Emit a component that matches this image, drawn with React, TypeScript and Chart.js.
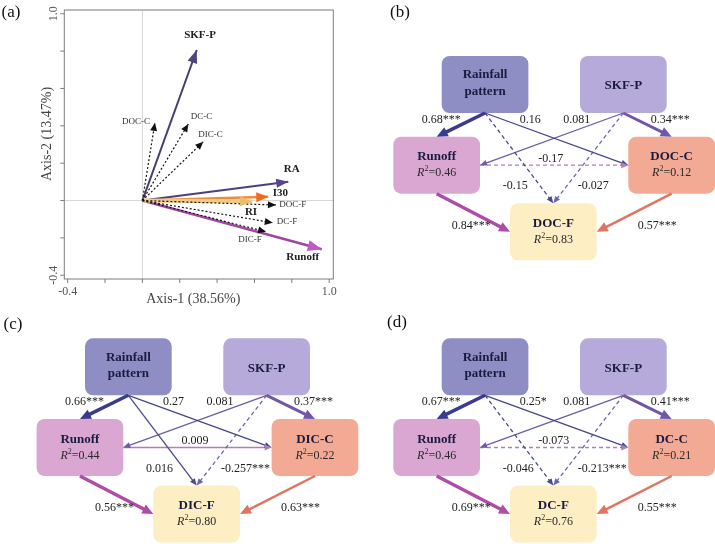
import { useEffect, useRef } from "react";
import { Chart, registerables } from "chart.js";

Chart.register(...registerables);

const SERIF = '"Liberation Serif", "Times New Roman", serif';

// ---------- Panel (a): RDA biplot data ----------
const explanatoryNames = ["RI", "I30", "RA", "SKF-P", "Runoff"];
const explanatoryAxis1 = [0.587, 0.674, 0.781, 0.291, 0.96];
const explanatoryAxis2 = [-0.005, 0.02, 0.101, 0.806, -0.261];
const responseNames = ["DOC-C", "DC-C", "DIC-C", "DOC-F", "DC-F", "DIC-F"];
const responseAxis1 = [0.067, 0.246, 0.326, 0.715, 0.698, 0.662];
const responseAxis2 = [0.416, 0.41, 0.315, -0.024, -0.119, -0.167];
const axisTickValues = [-0.4, -0.2, 0, 0.2, 0.4, 0.6, 0.8, 1.0];
const axisTickLabels = ["-0.4", "", "", "", "", "", "", "1.0"];
const axis1Title = "Axis-1 (38.56%)";
const axis2Title = "Axis-2 (13.47%)";

// ---------- Panels (b)-(d): path model data ----------
const panelLetters = ["(b)", "(c)", "(d)"];
const carbonCNames = ["DOC-C", "DIC-C", "DC-C"];
const carbonFNames = ["DOC-F", "DIC-F", "DC-F"];
const r2Runoff = [0.46, 0.44, 0.46];
const r2CarbonC = [0.12, 0.22, 0.21];
const r2CarbonF = [0.83, 0.8, 0.76];
const pathFrom = ["rain", "rain", "rain", "skf", "skf", "skf", "runoff", "runoff", "cc"];
const pathTo = ["runoff", "cc", "cf", "runoff", "cc", "cf", "cc", "cf", "cf"];
const coefDOC = [0.68, 0.16, -0.15, 0.081, 0.34, -0.027, -0.17, 0.84, 0.57];
const sigDOC = ["***", "", "", "", "***", "", "", "***", "***"];
const coefDIC = [0.66, 0.27, 0.016, 0.081, 0.37, -0.257, 0.009, 0.56, 0.63];
const sigDIC = ["***", "", "", "", "***", "***", "", "***", "***"];
const coefDC = [0.67, 0.25, -0.046, 0.081, 0.41, -0.213, -0.073, 0.69, 0.55];
const sigDC = ["***", "*", "", "", "***", "***", "", "***", "***"];
const panelCoefs = [coefDOC, coefDIC, coefDC];
const panelSigs = [sigDOC, sigDIC, sigDC];

// ---------- Styles / layout ----------
const responseStyle = { color: "#151515", width: 1.2, dash: [2, 2], headLen: 8, headHalf: 3.5, head: "#111" };
const explanatoryStyle = [
  { color: "#eccb86", width: 4, head: "#e9bf6c", headLen: 12, headHalf: 5 },
  { color: "#ee8c3e", width: 2.5, head: "#ef6c1c", headLen: 12, headHalf: 5 },
  { color: "#4d3f80", width: 2, head: "#584592", headLen: 12, headHalf: 4.5 },
  { color: "#47406f", width: 2, head: "#4c4580", headLen: 13, headHalf: 5 },
  { color: "#a045a4", width: 2.5, head: "#c257c5", headLen: 14, headHalf: 5.5 },
];
const explanatoryLabel = [
  { dx: -1, dy: 11, align: "center" },
  { dx: 12, dy: -4, align: "center" },
  { dx: 3.4, dy: -12.7, align: "center" },
  { dx: 3.3, dy: -15, align: "center" },
  { dx: -19, dy: 8, align: "center" },
];
const responseLabel = [
  { dx: -5, dy: -1, align: "right" },
  { dx: 2.4, dy: -7.3, align: "left" },
  { dx: -5, dy: -6.7, align: "left" },
  { dx: 3.3, dy: 0, align: "left" },
  { dx: 4, dy: -1, align: "left" },
  { dx: -16, dy: 8.3, align: "center" },
];

const BOX_W = 86.7;
const BOX_H = 57;
const BOX_R = 8;
const nodePos: Record<string, [number, number]> = {
  rain: [0, 0],
  skf: [138.3, 0],
  runoff: [-48.4, 80.7],
  cc: [186.6, 80.7],
  cf: [68.3, 147.3],
};
const nodeFill: Record<string, string> = {
  rain: "#8e8dc4",
  skf: "#b5aad9",
  runoff: "#d9a7d2",
  cc: "#f3aa95",
  cf: "#fdefc3",
};
const fromSide = ["bottom", "bottom", "bottom", "bottom", "bottom", "bottom", "right", "bottom", "bottom"];
const toSide = ["top", "left", "top", "right", "top", "top", "left", "left", "right"];
const edgeColor = ["#3b3a8c", "#46468f", "#4a4a8c", "#6c5ca6", "#7257a8", "#6f66aa", "#b47cb8", "#b04ba8", "#e07460"];
const edgeThick = [3.5, 3, 3, 3, 3, 3, 3, 3.5, 2.5];
const labelPos: [number, number][] = [
  [-20, 63.7], [78, 63.7], [61, 130.3], [121.5, 63.7], [209, 63.7], [136, 130.3], [96.5, 102.8], [10, 170], [196, 170],
];
const panelPlacement = [
  { left: 370, top: 0, width: 345, height: 300, ox: 441.7, oy: 56, letter: [400, 13] },
  { left: 0, top: 308, width: 362, height: 236, ox: 85, oy: 338.3, letter: [13, 325] },
  { left: 370, top: 300, width: 345, height: 244, ox: 441.7, oy: 338.3, letter: [397, 323] },
];

function drawHead(ctx: CanvasRenderingContext2D, fx: number, fy: number, tx: number, ty: number, len: number, half: number, color: string) {
  const a = Math.atan2(ty - fy, tx - fx);
  ctx.save();
  ctx.translate(tx, ty);
  ctx.rotate(a);
  ctx.beginPath();
  ctx.moveTo(0, 0);
  ctx.lineTo(-len, -half);
  ctx.lineTo(-len, half);
  ctx.closePath();
  ctx.fillStyle = color;
  ctx.fill();
  ctx.restore();
}

function roundRect(ctx: CanvasRenderingContext2D, x: number, y: number, w: number, h: number, r: number) {
  ctx.beginPath();
  ctx.moveTo(x + r, y);
  ctx.arcTo(x + w, y, x + w, y + h, r);
  ctx.arcTo(x + w, y + h, x, y + h, r);
  ctx.arcTo(x, y + h, x, y, r);
  ctx.arcTo(x, y, x + w, y, r);
  ctx.closePath();
}

function BiplotPanel() {
  const ref = useRef<HTMLCanvasElement>(null);
  useEffect(() => {
    const canvas = ref.current;
    if (!canvas) return;
    const datasets: any[] = [];
    responseNames.forEach((n, i) => {
      datasets.push({
        label: n,
        data: [{ x: 0, y: 0 }, { x: responseAxis1[i], y: responseAxis2[i] }],
        showLine: true,
        borderColor: responseStyle.color,
        borderWidth: responseStyle.width,
        borderDash: responseStyle.dash,
        pointRadius: 0,
      });
    });
    explanatoryNames.forEach((n, i) => {
      datasets.push({
        label: n,
        data: [{ x: 0, y: 0 }, { x: explanatoryAxis1[i], y: explanatoryAxis2[i] }],
        showLine: true,
        borderColor: explanatoryStyle[i].color,
        borderWidth: explanatoryStyle[i].width,
        pointRadius: 0,
      });
    });
    const plugin = {
      id: "biplot",
      beforeDatasetsDraw(chart: any) {
        const { ctx, chartArea: a, scales } = chart;
        const x0 = scales.x.getPixelForValue(0);
        const y0 = scales.y.getPixelForValue(0);
        ctx.save();
        ctx.strokeStyle = "#d6d6d6";
        ctx.lineWidth = 1;
        ctx.beginPath();
        ctx.moveTo(x0, a.top);
        ctx.lineTo(x0, a.bottom);
        ctx.moveTo(a.left, y0);
        ctx.lineTo(a.right, y0);
        ctx.stroke();
        ctx.restore();
      },
      afterDatasetsDraw(chart: any) {
        const { ctx, chartArea: a, scales } = chart;
        ctx.save();
        const nResp = responseNames.length;
        datasets.forEach((_, i) => {
          const meta = chart.getDatasetMeta(i);
          const p0 = meta.data[0];
          const p1 = meta.data[1];
          if (i < nResp) {
            drawHead(ctx, p0.x, p0.y, p1.x, p1.y, responseStyle.headLen, responseStyle.headHalf, responseStyle.head);
          } else {
            const s = explanatoryStyle[i - nResp];
            drawHead(ctx, p0.x, p0.y, p1.x, p1.y, s.headLen, s.headHalf, s.head);
          }
        });
        ctx.textBaseline = "middle";
        datasets.forEach((_, i) => {
          const meta = chart.getDatasetMeta(i);
          const p1 = meta.data[1];
          if (i < nResp) {
            const l = responseLabel[i];
            ctx.font = `9px ${SERIF}`;
            ctx.fillStyle = "#333";
            ctx.textAlign = l.align;
            ctx.fillText(responseNames[i], p1.x + l.dx, p1.y + l.dy);
          } else {
            const l = explanatoryLabel[i - nResp];
            ctx.font = `bold 11px ${SERIF}`;
            ctx.fillStyle = "#222";
            ctx.textAlign = l.align;
            ctx.fillText(explanatoryNames[i - nResp], p1.x + l.dx, p1.y + l.dy);
          }
        });
        // frame
        ctx.strokeStyle = "#7d7d7d";
        ctx.lineWidth = 1;
        ctx.strokeRect(a.left, a.top, a.right - a.left, a.bottom - a.top);
        // ticks
        ctx.beginPath();
        axisTickValues.forEach((v) => {
          const px = scales.x.getPixelForValue(v);
          ctx.moveTo(px, a.bottom);
          ctx.lineTo(px, a.bottom + 4);
          const py = scales.y.getPixelForValue(v);
          ctx.moveTo(a.left, py);
          ctx.lineTo(a.left - 4, py);
        });
        ctx.stroke();
        ctx.fillStyle = "#555";
        ctx.font = `12px ${SERIF}`;
        ctx.textAlign = "center";
        axisTickValues.forEach((v, i) => {
          const lab = axisTickLabels[i];
          if (!lab) return;
          ctx.fillText(lab, scales.x.getPixelForValue(v), a.bottom + 13);
          ctx.save();
          ctx.translate(a.left - 10, scales.y.getPixelForValue(v));
          ctx.rotate(-Math.PI / 2);
          ctx.fillText(lab, 0, 0);
          ctx.restore();
        });
        ctx.fillStyle = "#444";
        ctx.font = `14px ${SERIF}`;
        ctx.fillText(axis1Title, a.left + 129, a.bottom + 20.5);
        ctx.save();
        ctx.translate(a.left - 16.5, a.top + 124);
        ctx.rotate(-Math.PI / 2);
        ctx.fillText(axis2Title, 0, 0);
        ctx.restore();
        ctx.fillStyle = "#111";
        ctx.font = `17px ${SERIF}`;
        ctx.fillText("(a)", 11, 13);
        ctx.restore();
      },
    };
    const chart = new Chart(canvas, {
      type: "scatter",
      data: { datasets },
      options: {
        responsive: false,
        animation: false,
        devicePixelRatio: 1,
        events: [],
        layout: { padding: { left: 64.3, top: 10, right: 357 - 333.3, bottom: 308 - 279 } },
        scales: {
          x: { type: "linear", min: -0.418, max: 1.022, display: false },
          y: { type: "linear", min: -0.42, max: 1.02, display: false },
        },
        plugins: { legend: { display: false }, tooltip: { enabled: false } },
      } as any,
      plugins: [plugin as any],
    });
    return () => chart.destroy();
  }, []);
  return <canvas ref={ref} width={357} height={308} style={{ position: "absolute", left: 0, top: 0 }} />;
}

function anchor(node: string, side: string): [number, number] {
  const [x, y] = nodePos[node];
  if (side === "top") return [x + BOX_W / 2, y];
  if (side === "bottom") return [x + BOX_W / 2, y + BOX_H];
  if (side === "left") return [x, y + BOX_H / 2];
  return [x + BOX_W, y + BOX_H / 2];
}

function PathPanel({ k }: { k: number }) {
  const ref = useRef<HTMLCanvasElement>(null);
  const place = panelPlacement[k];
  useEffect(() => {
    const canvas = ref.current;
    if (!canvas) return;
    const coefs = panelCoefs[k];
    const sigs = panelSigs[k];
    const edges = pathFrom.map((f, i) => {
      const s = anchor(f, fromSide[i]);
      const t = anchor(pathTo[i], toSide[i]);
      const thick = coefs[i] >= 0.3;
      const headLen = thick ? 11 : 7;
      const headHalf = thick ? 5 : 3;
      const dx = t[0] - s[0];
      const dy = t[1] - s[1];
      const L = Math.hypot(dx, dy);
      const e: [number, number] = [t[0] - (dx / L) * headLen * 0.7, t[1] - (dy / L) * headLen * 0.7];
      return { s, t, e, thick, headLen, headHalf, dashed: coefs[i] < 0 };
    });
    const datasets = edges.map((ed, i) => ({
      label: pathFrom[i] + "-" + pathTo[i],
      data: [{ x: ed.s[0], y: ed.s[1] }, { x: ed.e[0], y: ed.e[1] }],
      showLine: true,
      borderColor: edgeColor[i],
      borderWidth: ed.thick ? edgeThick[i] : 1.3,
      borderDash: ed.dashed ? [4, 3] : [],
      pointRadius: 0,
    }));
    const titles: Record<string, string[]> = {
      rain: ["Rainfall", "pattern"],
      skf: ["SKF-P"],
      runoff: ["Runoff"],
      cc: [carbonCNames[k]],
      cf: [carbonFNames[k]],
    };
    const r2: Record<string, number> = { runoff: r2Runoff[k], cc: r2CarbonC[k], cf: r2CarbonF[k] };
    const plugin = {
      id: "path" + k,
      beforeDatasetsDraw(chart: any) {
        const { ctx, scales } = chart;
        const px = (v: number) => scales.x.getPixelForValue(v);
        const py = (v: number) => scales.y.getPixelForValue(v);
        ctx.save();
        Object.keys(nodePos).forEach((n) => {
          const [nx, ny] = nodePos[n];
          const x = px(nx);
          const y = py(ny);
          const w = px(nx + BOX_W) - x;
          const h = py(ny + BOX_H) - y;
          roundRect(ctx, x, y, w, h, BOX_R);
          ctx.fillStyle = nodeFill[n];
          ctx.fill();
          const cx = x + w / 2;
          const cy = y + h / 2;
          ctx.fillStyle = "#1b1b3f";
          ctx.font = `bold 13px ${SERIF}`;
          ctx.textAlign = "center";
          ctx.textBaseline = "middle";
          const t = titles[n];
          if (t.length === 2) {
            ctx.fillText(t[0], cx, cy - 9.5);
            ctx.fillText(t[1], cx, cy + 7);
          } else if (r2[n] === undefined) {
            ctx.fillText(t[0], cx, cy + 1.5);
          } else {
            ctx.fillText(t[0], cx, cy - 8.3);
            const f1 = `italic 12px ${SERIF}`;
            const f2 = `8px ${SERIF}`;
            const f3 = `12px ${SERIF}`;
            const rest = "=" + r2[n].toFixed(2);
            ctx.font = f1;
            const w1 = ctx.measureText("R").width;
            ctx.font = f2;
            const w2 = ctx.measureText("2").width;
            ctx.font = f3;
            const w3 = ctx.measureText(rest).width;
            let sx = cx - (w1 + w2 + w3) / 2;
            const ry = cy + 8;
            ctx.textAlign = "left";
            ctx.fillStyle = "#2a2a2a";
            ctx.font = f1;
            ctx.fillText("R", sx, ry);
            sx += w1;
            ctx.font = f2;
            ctx.fillText("2", sx, ry - 4);
            sx += w2;
            ctx.font = f3;
            ctx.fillText(rest, sx, ry);
          }
        });
        ctx.fillStyle = "#111";
        ctx.font = `17px ${SERIF}`;
        ctx.textAlign = "center";
        ctx.textBaseline = "middle";
        ctx.fillText(panelLetters[k], px(place.letter[0] - place.ox), py(place.letter[1] - place.oy));
        ctx.restore();
      },
      afterDatasetsDraw(chart: any) {
        const { ctx, scales } = chart;
        const px = (v: number) => scales.x.getPixelForValue(v);
        const py = (v: number) => scales.y.getPixelForValue(v);
        ctx.save();
        edges.forEach((ed, i) => {
          drawHead(ctx, px(ed.s[0]), py(ed.s[1]), px(ed.t[0]), py(ed.t[1]), ed.headLen, ed.headHalf, edgeColor[i]);
        });
        ctx.fillStyle = "#222";
        ctx.font = `12px ${SERIF}`;
        ctx.textAlign = "left";
        ctx.textBaseline = "middle";
        coefs.forEach((c, i) => {
          ctx.fillText(String(c) + sigs[i], px(labelPos[i][0]), py(labelPos[i][1]));
        });
        ctx.restore();
      },
    };
    const chart = new Chart(canvas, {
      type: "scatter",
      data: { datasets },
      options: {
        responsive: false,
        animation: false,
        devicePixelRatio: 1,
        events: [],
        layout: { padding: 0 },
        scales: {
          x: { type: "linear", min: place.left - place.ox, max: place.left - place.ox + place.width, display: false },
          y: { type: "linear", min: place.top - place.oy, max: place.top - place.oy + place.height, reverse: true, display: false },
        },
        plugins: { legend: { display: false }, tooltip: { enabled: false } },
      } as any,
      plugins: [plugin as any],
    });
    return () => chart.destroy();
  }, [k]);
  return (
    <canvas
      ref={ref}
      width={place.width}
      height={place.height}
      style={{ position: "absolute", left: place.left, top: place.top }}
    />
  );
}

export default function App() {
  return (
    <div style={{ position: "fixed", left: 0, top: 0, width: 715, height: 544, background: "#fff", overflow: "hidden" }}>
      <BiplotPanel />
      <PathPanel k={0} />
      <PathPanel k={1} />
      <PathPanel k={2} />
    </div>
  );
}
